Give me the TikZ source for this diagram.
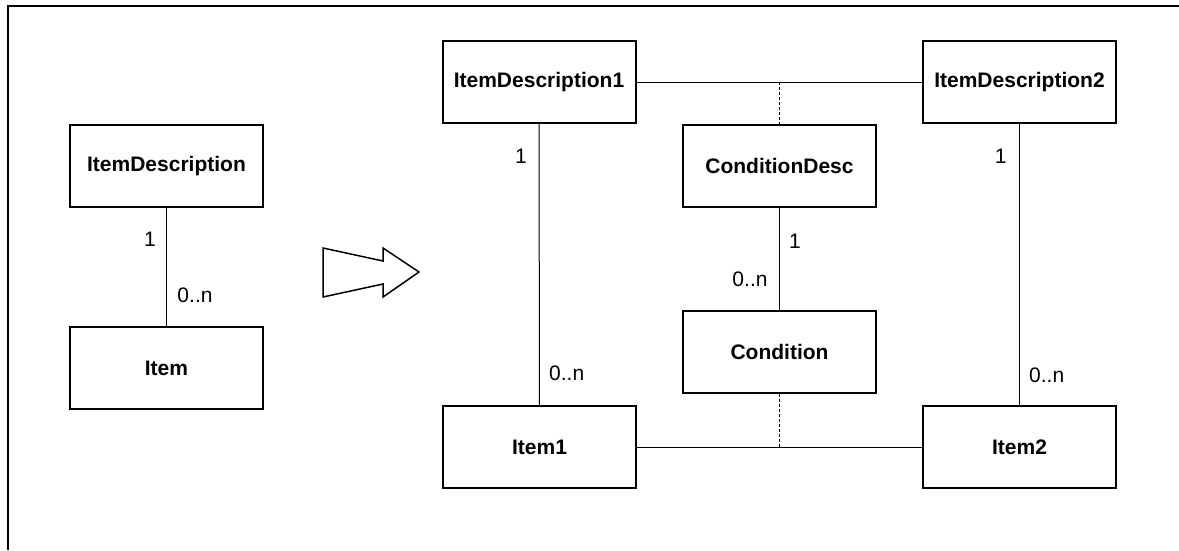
\documentclass[tikz,border=0pt]{standalone}
\usepackage{fontspec}
\setmainfont{Liberation Sans}
\begin{document}
\begin{tikzpicture}[x=1pt,y=-1pt,
  cls/.style={draw, line width=2pt, minimum width=193pt, minimum height=82pt, inner sep=0pt,
    font=\fontsize{21}{25}\selectfont\bfseries},
  lbl/.style={inner sep=0pt, font=\fontsize{21}{25}\selectfont},
  assoc/.style={line width=1pt},
  dep/.style={line width=1pt, dash pattern=on 3pt off 2pt}]
\useasboundingbox (0,0) rectangle (1179,550);
% frame
\draw[line width=2.5pt] (8,550) -- (8,6) -- (1179,6);
% left model
\node[cls] (idesc) at (166.5,166) {ItemDescription};
\node[cls] (item) at (166.5,368) {Item};
\draw[assoc] (idesc) -- (item);
\node[lbl] (l1) at (150,239) {1};
\node[lbl] (l2) at (195,295) {0..n};
% transformation arrow
\draw[line width=1.5pt, line join=miter] (323,248) -- (383,261) -- (383,248) -- (419,272) -- (383,297) -- (383,284) -- (323,297) -- cycle;
% right model
\node[cls] (id1) at (539,82) {ItemDescription1};
\node[cls] (id2) at (1019.5,82) {ItemDescription2};
\node[cls] (cd) at (779.5,166) {ConditionDesc};
\node[cls] (cond) at (779.5,351.5) {Condition};
\node[cls] (it1) at (539.5,447) {Item1};
\node[cls] (it2) at (1019.5,447) {Item2};
\draw[assoc] (id1) -- (id2);
\draw[assoc] (it1) -- (it2);
\draw[assoc] (id1) -- (it1);
\draw[assoc] (id2) -- (it2);
\draw[assoc] (cd) -- (cond);
\coordinate (m1) at (cd.north |- id1.east);
\coordinate (m2) at (cond.south |- it1.east);
\draw[dep] (m1) -- (cd.north);
\draw[dep] (cond.south) -- (m2);
\node[lbl] (r1) at (521,156) {1};
\node[lbl] (r2) at (566.7,373.3) {0..n};
\node[lbl] (r3) at (795,241.7) {1};
\node[lbl] (r4) at (750,279.3) {0..n};
\node[lbl] (r5) at (1000.7,156.7) {1};
\node[lbl] (r6) at (1046.7,375) {0..n};
\end{tikzpicture}
\end{document}
